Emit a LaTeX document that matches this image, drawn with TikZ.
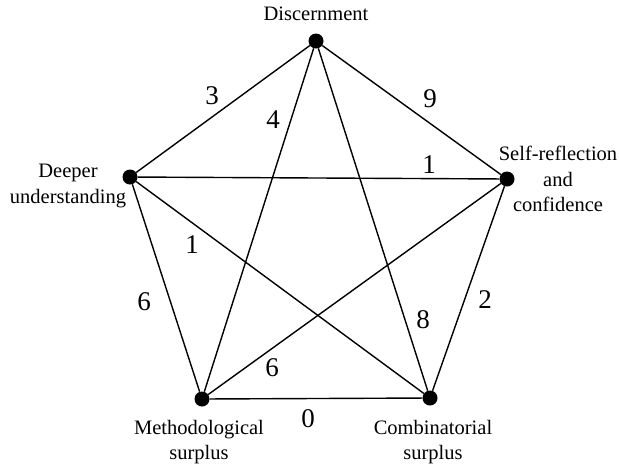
\documentclass[tikz,border=0pt]{standalone}
\usepackage{fontspec}
\setmainfont{Liberation Serif}
\newfontfamily\timesfont{Liberation Serif}
\usepackage{tikz}

\begin{document}
\begin{tikzpicture}[
    x=1pt, y=-1pt,
    dot/.style={
        circle, fill=black, inner sep=0pt, minimum size=15pt
    },
    caption/.style={
        align=center, inner sep=0pt,
        font=\timesfont\fontsize{20.5}{25.5}\selectfont
    },
    num/.style={inner sep=0pt, font=\timesfont\fontsize{27}{30}\selectfont},
    link/.style={line width=1.4pt, black}
]
    \useasboundingbox (0,0) rectangle (619,467);

    \node[dot] (D) at (316,41)  {};
    \node[dot] (S) at (507,179) {};
    \node[dot] (C) at (430,398) {};
    \node[dot] (M) at (202,399) {};
    \node[dot] (U) at (130,177) {};

    \node[caption] (tD) at (316,14)  {Discernment};
    \node[caption] (tS) at (558,179) {Self-reflection\\and\\confidence};
    \node[caption] (tU) at (68,186)  {Deeper\\understanding};
    \node[caption] (tM) at (199,442) {Methodological\\surplus};
    \node[caption] (tC) at (433,442) {Combinatorial\\surplus};

    \foreach \i/\j in {D/S, S/C, C/M, M/U, U/D, D/M, D/C, U/S, U/C, S/M} {
        \draw[link] (\i) -- (\j);
    }

    % weights
    \node[num] (wUD) at (212,96)  {3};
    \node[num] (wDS) at (430,99)  {9};
    \node[num] (wDM) at (273,120) {4};
    \node[num] (wUS) at (429,165) {1};
    \node[num] (wUC) at (192,245) {1};
    \node[num] (wMU) at (144,302) {6};
    \node[num] (wSC) at (485,300) {2};
    \node[num] (wDC) at (423,320) {8};
    \node[num] (wSM) at (272,368) {6};
    \node[num] (wCM) at (308,419) {0};
\end{tikzpicture}
\end{document}
